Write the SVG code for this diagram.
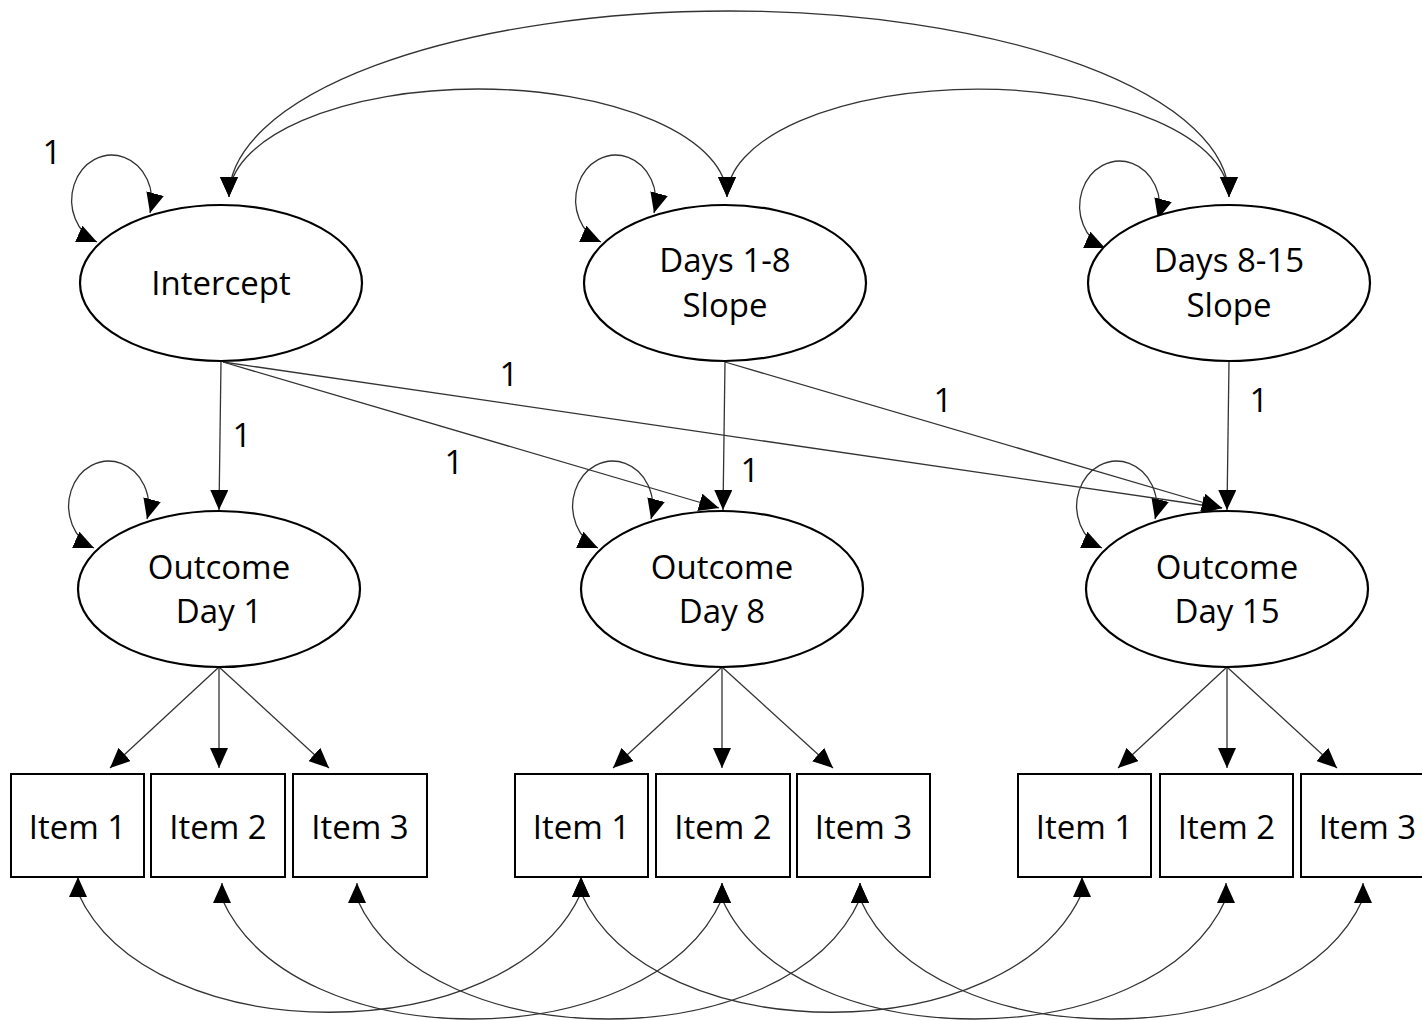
<svg xmlns="http://www.w3.org/2000/svg" width="1422" height="1020" viewBox="0 0 1422 1020">
<defs>
<style>
.node ellipse{fill:#fff;stroke:#000;stroke-width:2.2}
.node rect{fill:#fff;stroke:#000;stroke-width:2}
text{font-family:"Open Sans","Noto Sans","Liberation Sans",sans-serif;font-size:33px;fill:#000;text-anchor:middle}
.c path,.c line{fill:none;stroke:#333;stroke-width:1.3}
.a{marker-end:url(#ah)}
.aa{marker-start:url(#ah);marker-end:url(#ah)}
</style>
<marker id="ah" viewBox="0 0 20 18" markerWidth="20" markerHeight="18" refX="20" refY="9" markerUnits="userSpaceOnUse" orient="auto-start-reverse">
<path d="M0,0 L20,9 L0,18 z" fill="#000"/>
</marker>
</defs>
<rect width="1422" height="1020" fill="#fff"/>

<g id="connectors" class="c">
<!-- covariances between growth factors -->
<path class="aa" d="M229,197 A500,186 0 0 1 1229,197"/>
<path class="aa" d="M229,197 A249,108 0 0 1 727,197"/>
<path class="aa" d="M727,197 A251,108 0 0 1 1229,197"/>
<!-- variances (self loops) -->
<path class="aa" d="M150,213 A40,45 0 1 0 97,242"/>
<path class="aa" d="M654,213 A40,45 0 1 0 601,242"/>
<path class="aa" d="M1158,219 A40,45 0 1 0 1105,248"/>
<path class="aa" d="M147,519 A40,45 0 1 0 94,548"/>
<path class="aa" d="M651,519 A40,45 0 1 0 598,548"/>
<path class="aa" d="M1155,519 A40,45 0 1 0 1102,548"/>
<!-- loadings of growth factors -->
<line class="a" x1="221" y1="362" x2="219" y2="510"/>
<line class="a" x1="223" y1="362" x2="719" y2="508"/>
<line class="a" x1="223" y1="362" x2="1222" y2="508"/>
<line class="a" x1="725" y1="362" x2="723" y2="510"/>
<line class="a" x1="725" y1="362" x2="1222" y2="508"/>
<line class="a" x1="1229" y1="362" x2="1227" y2="510"/>
<!-- measurement loadings -->
<line class="a" x1="219" y1="667" x2="110" y2="768"/>
<line class="a" x1="219" y1="667" x2="219" y2="768"/>
<line class="a" x1="219" y1="667" x2="329" y2="768"/>
<line class="a" x1="722" y1="667" x2="613" y2="768"/>
<line class="a" x1="722" y1="667" x2="722" y2="768"/>
<line class="a" x1="722" y1="667" x2="833" y2="768"/>
<line class="a" x1="1227" y1="667" x2="1118" y2="768"/>
<line class="a" x1="1227" y1="667" x2="1227" y2="768"/>
<line class="a" x1="1227" y1="667" x2="1337" y2="768"/>
<!-- residual covariances between items -->
<path class="aa" d="M78,877 L78,893 C150,1052 509,1052 581,893 L581,877"/>
<path class="aa" d="M581,877 L581,893 C653,1052 1010,1052 1082,893 L1082,877"/>
<path class="aa" d="M222,883 L222,899 C294,1059 650,1059 722,899 L722,883"/>
<path class="aa" d="M722,883 L722,899 C794,1059 1154,1059 1226,899 L1226,883"/>
<path class="aa" d="M357,883 L357,899 C429,1059 788,1059 860,899 L860,883"/>
<path class="aa" d="M860,883 L860,899 C932,1059 1291,1059 1363,899 L1363,883"/>
</g>

<g id="labels">
<text x="52" y="164">1</text>
<text x="242" y="447">1</text>
<text x="454" y="474">1</text>
<text x="509" y="386">1</text>
<text x="750" y="482">1</text>
<text x="943" y="412">1</text>
<text x="1259" y="412">1</text>
</g>

<g id="intercept" class="node"><ellipse cx="221" cy="283" rx="141" ry="78"/><text x="221" y="295">Intercept</text></g>
<g id="slope1" class="node"><ellipse cx="725" cy="283" rx="141" ry="78"/><text x="725" y="272">Days 1-8</text><text x="725" y="317">Slope</text></g>
<g id="slope2" class="node"><ellipse cx="1229" cy="283" rx="141" ry="78"/><text x="1229" y="272">Days 8-15</text><text x="1229" y="317">Slope</text></g>

<g id="outcome1" class="node"><ellipse cx="219" cy="589" rx="141" ry="78"/><text x="219" y="579">Outcome</text><text x="219" y="623">Day 1</text></g>
<g id="outcome8" class="node"><ellipse cx="722" cy="589" rx="141" ry="78"/><text x="722" y="579">Outcome</text><text x="722" y="623">Day 8</text></g>
<g id="outcome15" class="node"><ellipse cx="1227" cy="589" rx="141" ry="78"/><text x="1227" y="579">Outcome</text><text x="1227" y="623">Day 15</text></g>

<g id="d1i1" class="node"><rect x="11" y="774" width="133" height="103"/><text x="77.5" y="839">Item 1</text></g>
<g id="d1i2" class="node"><rect x="151" y="774" width="134" height="103"/><text x="218" y="839">Item 2</text></g>
<g id="d1i3" class="node"><rect x="293" y="774" width="134" height="103"/><text x="360" y="839">Item 3</text></g>
<g id="d8i1" class="node"><rect x="515" y="774" width="133" height="103"/><text x="581.5" y="839">Item 1</text></g>
<g id="d8i2" class="node"><rect x="656" y="774" width="134" height="103"/><text x="723" y="839">Item 2</text></g>
<g id="d8i3" class="node"><rect x="797" y="774" width="133" height="103"/><text x="863.5" y="839">Item 3</text></g>
<g id="d15i1" class="node"><rect x="1018" y="774" width="133" height="103"/><text x="1084.5" y="839">Item 1</text></g>
<g id="d15i2" class="node"><rect x="1160" y="774" width="133" height="103"/><text x="1226.5" y="839">Item 2</text></g>
<g id="d15i3" class="node"><rect x="1301" y="774" width="133" height="103"/><text x="1367.5" y="839">Item 3</text></g>
</svg>
